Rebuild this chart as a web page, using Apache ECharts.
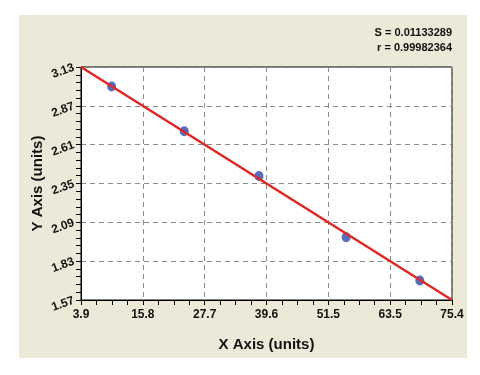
<!DOCTYPE html>
<html>
<head>
<meta charset="utf-8">
<script src="https://cdn.jsdelivr.net/npm/echarts@6/dist/echarts.min.js"></script>
<style>
html,body{margin:0;padding:0;background:#fff;}
#panel{position:absolute;left:19px;top:15px;width:448px;height:343px;background:#ECE9D8;}
#chart{position:absolute;left:0;top:0;width:480px;height:375px;}
</style>
</head>
<body>
<div id="panel"></div>
<div id="chart"></div>
<script>
const xTickLabels = ['3.9','15.8','27.7','39.6','51.5','63.5','75.4'];
const yTickLabels = ['1.57','1.83','2.09','2.35','2.61','2.87','3.13'];
const pointX = [9.8, 23.8, 38.2, 55.0, 69.2];
const pointY = [3.00, 2.70, 2.40, 1.99, 1.70];
const fitX = [3.9, 75.4];
const fitY = [3.13, 1.57];
const statS = 'S = 0.01133289';
const statR = 'r = 0.99982364';

const xMin = 3.9, xMax = 75.4, xStep = (xMax - xMin) / 6;
const yMin = 1.57, yMax = 3.13, yStep = 0.26;

const chart = echarts.init(document.getElementById('chart'), null, {renderer: 'canvas'});
const font = 'Liberation Sans, Arial, sans-serif';
chart.setOption({
  backgroundColor: 'transparent',
  animation: false,
  grid: {left: 81, top: 67, right: 28, bottom: 75, show: true, backgroundColor: '#fff', borderColor: '#000', borderWidth: 1},
  xAxis: {
    type: 'value', min: xMin, max: xMax, interval: xStep,
    name: 'X Axis (units)', nameLocation: 'middle', nameGap: 37, nameMoveOverlap: false,
    nameTextStyle: {fontFamily: font, fontWeight: 'bold', fontSize: 15, color: '#111'},
    axisLine: {lineStyle: {color: '#000', width: 1}},
    axisTick: {show: true, length: 5, lineStyle: {color: '#000'}},
    minorTick: {show: true, splitNumber: 4, length: 5, lineStyle: {color: '#000'}},
    axisLabel: {
      margin: 9, fontFamily: font, fontWeight: 'bold', fontSize: 12, color: '#111',
      formatter: function (v) { return xTickLabels[Math.round((v - xMin) / xStep)]; }
    },
    splitLine: {show: true, lineStyle: {color: '#8a8a8a', type: [5, 4], width: 1}}
  },
  yAxis: {
    type: 'value', min: yMin, max: yMax, interval: yStep,
    name: 'Y Axis (units)', nameLocation: 'middle', nameGap: 36, nameMoveOverlap: false,
    nameTextStyle: {fontFamily: font, fontWeight: 'bold', fontSize: 15, color: '#111'},
    axisLine: {show: true, lineStyle: {color: '#000', width: 1}},
    axisTick: {show: true, length: 5, lineStyle: {color: '#000'}},
    minorTick: {show: true, splitNumber: 5, length: 5, lineStyle: {color: '#000'}},
    axisLabel: {
      margin: 7, rotate: 20, fontFamily: font, fontWeight: 'bold', fontSize: 12, color: '#111',
      formatter: function (v) { return yTickLabels[Math.round((v - yMin) / yStep)]; }
    },
    splitLine: {show: true, lineStyle: {color: '#8a8a8a', type: [5, 4], width: 1}}
  },
  graphic: [
    {type: 'text', right: 28, top: 27, style: {text: statS, fontFamily: font, fontWeight: 'bold', fontSize: 11, fill: '#111'}},
    {type: 'text', right: 28, top: 42, style: {text: statR, fontFamily: font, fontWeight: 'bold', fontSize: 11, fill: '#111'}}
  ],
  series: [
    {
      type: 'scatter', z: 2,
      data: pointX.map((x, i) => [x, pointY[i]]),
      symbol: 'circle', symbolSize: [9, 10],
      itemStyle: {color: '#2B4BAA'}
    },
    {
      type: 'line', z: 3,
      data: fitX.map((x, i) => [x, fitY[i]]),
      showSymbol: false, symbol: 'none',
      lineStyle: {color: '#E02626', width: 2.5}
    }
  ]
});
</script>
</body>
</html>
